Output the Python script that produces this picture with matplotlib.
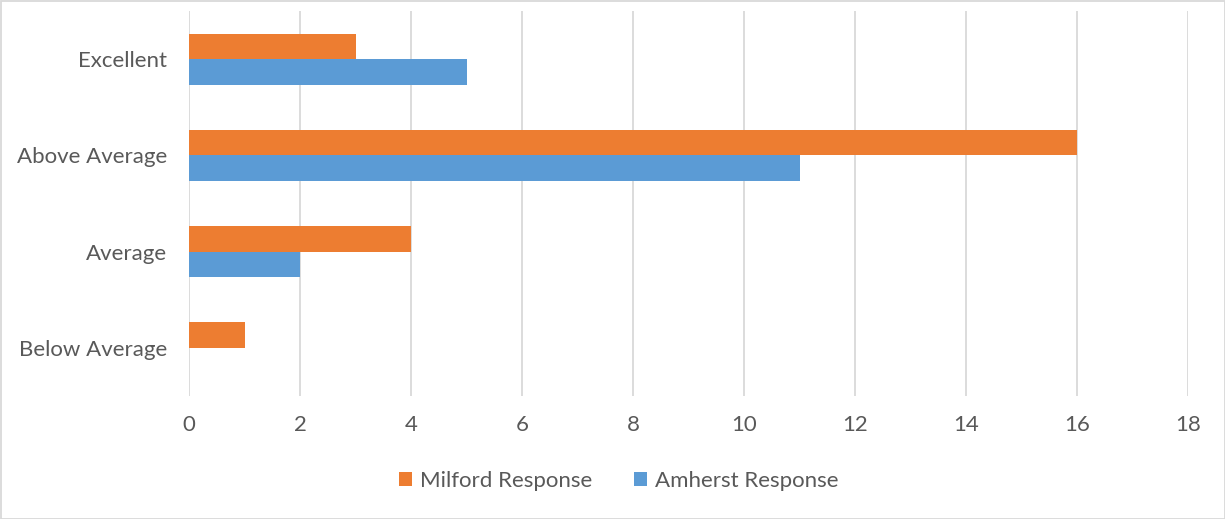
import numpy as np
import matplotlib
matplotlib.use("Agg")
import matplotlib.pyplot as plt
from matplotlib.patches import Rectangle

categories = ["Excellent", "Above Average", "Average", "Below Average"]
milford = [3, 16, 4, 1]
amherst = [5, 11, 2, 0]
xticks = [0, 2, 4, 6, 8, 10, 12, 14, 16, 18]

ORANGE = "#ED7D31"
BLUE = "#5B9BD5"
GREY_TXT = "#595959"
GRID = "#D9D9D9"

plt.rcParams["font.family"] = ["Lato", "DejaVu Sans"]

fig = plt.figure(figsize=(12.25, 5.19), dpi=100)
ax = fig.add_axes([189 / 1225, 123 / 519, 999 / 1225, 385 / 519])

y = np.arange(len(categories))
h = 0.265
ax.barh(y - h / 2, milford, height=h, color=ORANGE, label="Milford Response", zorder=3)
ax.barh(y + h / 2, amherst, height=h, color=BLUE, label="Amherst Response", zorder=3)

ax.set_ylim(len(categories) - 0.5, -0.5)
ax.set_xlim(0, 18)
ax.set_xticks(xticks)
ax.set_yticks(y)
ax.set_yticklabels(categories)
ax.tick_params(axis="both", length=0, labelsize=16, labelcolor=GREY_TXT)
ax.tick_params(axis="x", pad=14)
ax.tick_params(axis="y", pad=16)
ax.xaxis.grid(True, color=GRID, linewidth=1.3, zorder=0)
for s in ax.spines.values():
    s.set_visible(False)

fig.legend(loc="center", bbox_to_anchor=(0.505, 1 - 481 / 519), ncol=2,
           frameon=False, fontsize=16, labelcolor=GREY_TXT,
           handlelength=0.6, handleheight=0.6, handletextpad=0.35, columnspacing=1.9)

# outer chart border
fig.patches.append(Rectangle((0.5 / 1225, 0.5 / 519), 1 - 1 / 1225, 1 - 1 / 519,
                             transform=fig.transFigure, fill=False,
                             edgecolor=GRID, linewidth=1.3))

fig.savefig("out.png", dpi=100)
